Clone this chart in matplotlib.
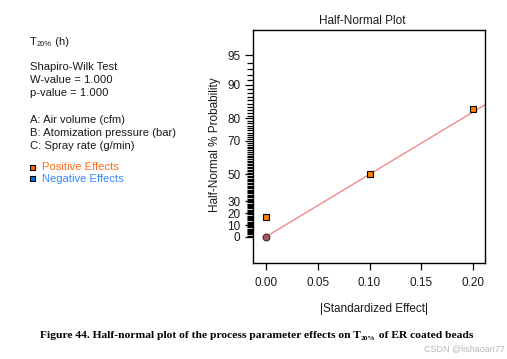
import math
import matplotlib
matplotlib.use("Agg")
import matplotlib.pyplot as plt

# ---- data ----
effect_x = [0.0, 0.1, 0.2]            # |standardized effect| of positive effects
effect_p = [16.67, 50.0, 83.33]       # half-normal % probability
error_x = [0.0]
error_p = [0.0]
fit_x = [0.0, 0.2115]
y_major = [0, 10, 20, 30, 50, 70, 80, 90, 95]
y_minor = list(range(1, 95))
x_ticks = [0.00, 0.05, 0.10, 0.15, 0.20]
x_labels = ["0.00", "0.05", "0.10", "0.15", "0.20"]
info_lines = ["Shapiro-Wilk Test", "W-value = 1.000", "p-value = 1.000"]
factor_lines = ["A: Air volume (cfm)", "B: Atomization pressure (bar)", "C: Spray rate (g/min)"]


def erfinv(v):
    lo, hi = 0.0, 10.0
    for _ in range(80):
        mid = (lo + hi) / 2
        if math.erf(mid) < v:
            lo = mid
        else:
            hi = mid
    return (lo + hi) / 2


def hz(p):
    return math.sqrt(2) * erfinv(p / 100.0)


W, H = 507, 359
fig = plt.figure(figsize=(W / 100, H / 100), dpi=100)
fig.patch.set_facecolor("white")
SANS = "Liberation Sans"
SERIF = "Liberation Serif"
txtc = "#1a1a1a"

ax = fig.add_axes([253 / W, 1 - 263 / H, (485 - 253) / W, (263 - 30) / H])
ax.set_xlim(-0.0125, 0.2115)
ax.set_ylim(-0.284, 2.235)

slope = hz(effect_p[1]) / effect_x[1]
ax.plot(fit_x, [slope * v for v in fit_x], color="#f28b8b", lw=1.0, zorder=2)
ax.plot(effect_x, [hz(p) for p in effect_p], ls="none", marker="s", ms=4.2,
        mfc="#ff8000", mec="black", mew=0.8, zorder=3, clip_on=False)
ax.plot(error_x, [hz(p) for p in error_p], ls="none", marker="o", ms=5,
        mfc="#a05858", mec="#402020", mew=0.7, zorder=3)

ax.set_yticks([hz(p) for p in y_major])
ax.set_yticklabels([str(p) for p in y_major])
ax.set_yticks([hz(p) for p in y_minor if p not in y_major], minor=True)
ax.set_xticks(x_ticks)
ax.set_xticklabels(x_labels)
ax.tick_params(axis="y", which="major", length=6, width=0.9, pad=3,
               labelsize=8.5, labelcolor=txtc, direction="out")
ax.tick_params(axis="y", which="minor", length=4, width=0.9, direction="out")
ax.tick_params(axis="x", which="major", length=5, width=0.9, pad=5,
               labelsize=8.5, labelcolor=txtc, direction="out")
for lab in ax.get_xticklabels() + ax.get_yticklabels():
    lab.set_fontfamily(SANS)
for s in ax.spines.values():
    s.set_linewidth(1.0)

fig.text(362 / W, 1 - 21 / H, "Half-Normal Plot", ha="center", va="center",
         fontsize=8.5, family=SANS, color=txtc)
fig.text(374 / W, 1 - 309 / H, "|Standardized Effect|", ha="center", va="center",
         fontsize=8.5, family=SANS, color=txtc)
fig.text(215 / W, 1 - 145 / H, "Half-Normal % Probability", ha="center", va="center",
         rotation=90, fontsize=8.5, family=SANS, color=txtc)

# left panel text
fig.canvas.draw()
rend = fig.canvas.get_renderer()
FS = 8.15
t0 = fig.text(30 / W, 1 - 42 / H, "T", ha="left", va="center", fontsize=FS,
              family=SANS, color=txtc)
bb = t0.get_window_extent(rend)
t1 = fig.text(bb.x1 / W, 1 - 45 / H, "20%", ha="left", va="center", fontsize=5.5,
              family=SANS, color=txtc)
bb1 = t1.get_window_extent(rend)
fig.text(bb1.x1 / W, 1 - 42 / H, " (h)", ha="left", va="center", fontsize=FS,
         family=SANS, color=txtc)

for i, s in enumerate(info_lines):
    fig.text(30 / W, 1 - (67.5 + 12.5 * i) / H, s, ha="left", va="center",
             fontsize=FS, family=SANS, color=txtc)
for i, s in enumerate(factor_lines):
    fig.text(30 / W, 1 - (119.5 + 13.3 * i) / H, s, ha="left", va="center",
             fontsize=FS, family=SANS, color=txtc)

legend_items = [("Positive Effects", "#ff6a00", "#ff6a1a"),
                ("Negative Effects", "#0070e0", "#3388ff")]
for i, (lab, fc, tc) in enumerate(legend_items):
    yy = 1 - (167 + 11.5 * i) / H
    fig.patches.append(matplotlib.patches.Rectangle(
        (30 / W, yy - 2.5 / H), 5 / W, 5 / H, transform=fig.transFigure,
        facecolor=fc, edgecolor="black", lw=0.8))
    fig.text(42.5 / W, yy, lab, ha="left", va="center", fontsize=FS,
             family=SANS, color=tc)

# caption
CFS = 8.25
c0 = fig.text(40 / W, 1 - 335.5 / H,
              "Figure 44. Half-normal plot of the process parameter effects on T",
              ha="left", va="center", fontsize=CFS, family=SERIF, weight="bold",
              color="black")
cb = c0.get_window_extent(rend)
c1 = fig.text(cb.x1 / W, 1 - 338 / H, "20%", ha="left", va="center", fontsize=5.2,
              family=SERIF, weight="bold", color="black")
cb1 = c1.get_window_extent(rend)
fig.text(cb1.x1 / W, 1 - 335.5 / H, " of ER coated beads", ha="left", va="center",
         fontsize=CFS, family=SERIF, weight="bold", color="black")

fig.text(505 / W, 1 - 348.5 / H, "CSDN @lishaoan77", ha="right", va="center",
         fontsize=6.5, family=SANS, color="#b8b8b8")

fig.savefig("out.png", dpi=100)
